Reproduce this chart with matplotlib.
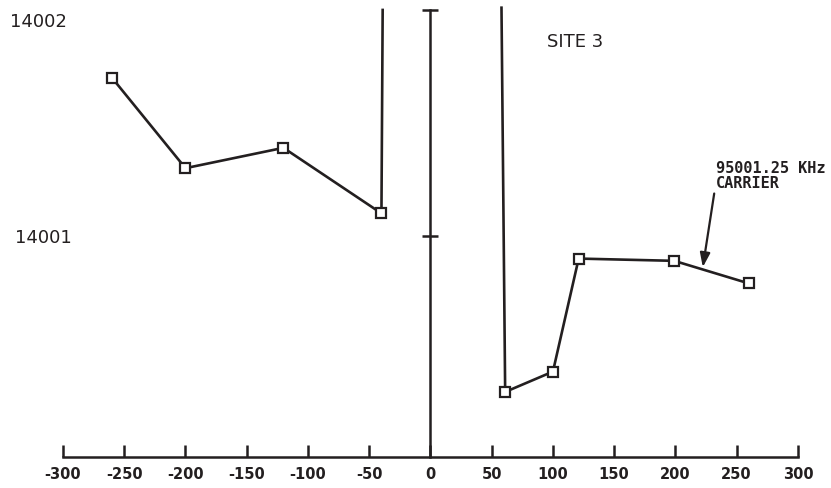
import matplotlib
matplotlib.use("Agg")
import matplotlib.pyplot as plt

# left branch (offset, frequency)
left_x = [-260, -200, -120, -40]
left_y = [14001.70, 14001.30, 14001.39, 14001.10]
# right branch
right_x = [61, 100, 121, 199, 260]
right_y = [14000.31, 14000.40, 14000.90, 14000.89, 14000.79]
# vertical runs going off the top of the plot
left_top = (-39, 14002.0)
right_top = (58, 14002.01)

x_ticks = [-300, -250, -200, -150, -100, -50, 0, 50, 100, 150, 200, 250, 300]
y_ticks = [14001, 14002]
y_base = 14000.02

ink = "#231f20"

fig = plt.figure(figsize=(8.31, 4.88), dpi=100)
ax = fig.add_axes([0, 0, 1, 1])
ax.set_xlim(-351.4, 327.0)
ax.set_ylim(13999.885, 14002.044)

ax.plot(left_x + [left_top[0]], left_y + [left_top[1]], color=ink, lw=1.9)
ax.plot([right_top[0]] + right_x, [right_top[1]] + right_y, color=ink, lw=1.9)
ax.plot(left_x, left_y, ls="none", marker="s", ms=7, mfc="white", mec=ink, mew=1.6)
ax.plot(right_x, right_y, ls="none", marker="s", ms=7, mfc="white", mec=ink, mew=1.6)

for s in ["top", "right"]:
    ax.spines[s].set_visible(False)
ax.spines["bottom"].set_position(("data", y_base))
ax.spines["bottom"].set_bounds(-300, 300)
ax.spines["left"].set_position(("data", 0))
ax.spines["left"].set_bounds(y_base, 14002.0)
for s in ["bottom", "left"]:
    ax.spines[s].set_color(ink)
    ax.spines[s].set_linewidth(1.8)

ax.set_xticks(x_ticks)
ax.set_xticklabels([str(t) for t in x_ticks], fontsize=10.5, fontweight="bold", color=ink)
ax.tick_params(axis="x", direction="in", length=8.5, width=1.8, color=ink, pad=7)
ax.set_yticks(y_ticks)
ax.set_yticklabels([])
ax.tick_params(axis="y", direction="inout", length=12, width=1.8, color=ink)

ax.text(-343, 14001.947, "14002", fontsize=13, color=ink, va="center", ha="left")
ax.text(-339, 14000.99, "14001", fontsize=13, color=ink, va="center", ha="left")
ax.text(95, 14001.86, "SITE 3", fontsize=13, color=ink, va="center", ha="left")
ax.text(233, 14001.265, "95001.25 KHz\nCARRIER", fontsize=11, fontweight="bold",
        family="DejaVu Sans Mono", color=ink, va="center", ha="left", linespacing=0.95)
ax.annotate("", xy=(222, 14000.85), xytext=(232, 14001.2),
            arrowprops=dict(arrowstyle="-|>,head_width=0.25,head_length=0.7",
                            color=ink, lw=1.6, mutation_scale=12))

fig.savefig("out.png", dpi=100)
